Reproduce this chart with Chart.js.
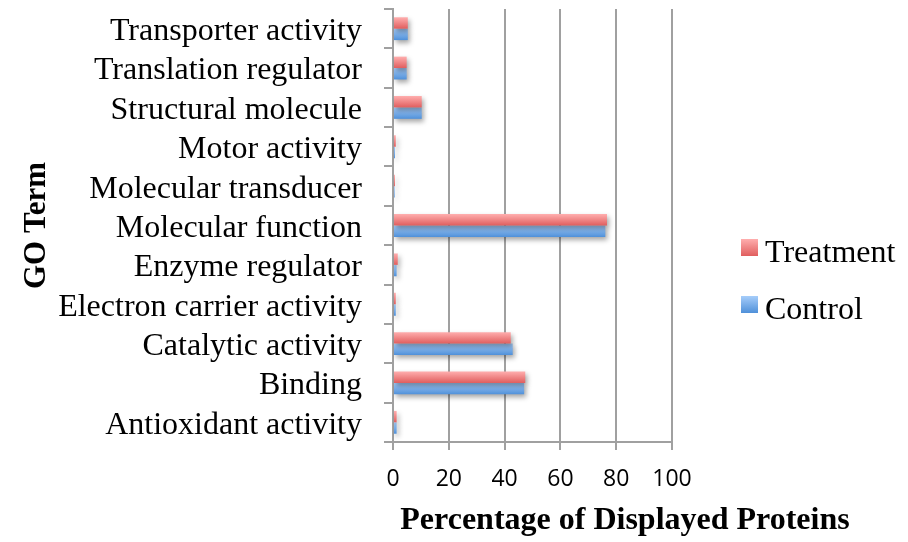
<!DOCTYPE html>
<html>
<head>
<meta charset="utf-8">
<script src="https://cdn.jsdelivr.net/npm/chart.js@4.4.1/dist/chart.umd.min.js"></script>
<style>
	html, body { margin: 0; padding: 0; background: #fff; }
	#wrap { width: 908px; height: 542px; }
</style>
</head>
<body>
<div id="wrap"><canvas id="myChart" width="908" height="542"></canvas></div>
<script>

var categories = ["Transporter activity", "Translation regulator", "Structural molecule", "Motor activity", "Molecular transducer", "Molecular function", "Enzyme regulator", "Electron carrier activity", "Catalytic activity", "Binding", "Antioxidant activity"];
var treatment = [5.3, 4.9, 10.3, 1.0, 0.7, 76.7, 1.7, 1.0, 42.2, 47.4, 1.3];
var control = [5.3, 4.9, 10.3, 0.7, 0.6, 76.1, 1.3, 1.0, 42.9, 47.0, 1.3];
var xTicks = [0, 20, 40, 60, 80, 100];

var serif = "'Liberation Serif', 'Times New Roman', serif";
var catPct = 0.58;

var redTop = "#FFAEAE", redBottom = "#E05E5E";
var blueTop = "#A6CDFA", blueBottom = "#4F90D9";

function barGradient(top, bottom) {
	return function(context) {
		var chart = context.chart;
		var area = chart.chartArea;
		var yScale = chart.scales.y;
		if (!area || !yScale) return bottom;
		var c = yScale.getPixelForValue(context.dataIndex);
		var pair = (area.bottom - area.top) / categories.length * catPct;
		var t = context.datasetIndex === 0 ? c - pair / 2 : c;
		if (!isFinite(t)) return bottom;
		var g = chart.ctx.createLinearGradient(0, t, 0, t + pair / 2);
		g.addColorStop(0, top);
		g.addColorStop(1, bottom);
		return g;
	};
}

var shadowPlugin = {
	id: "shadow",
	beforeDatasetsDraw: function(chart) {
		var ctx = chart.ctx;
		ctx.save();
		ctx.shadowColor = "rgba(0,0,0,0.35)";
		ctx.shadowBlur = 5;
		ctx.shadowOffsetX = 2;
		ctx.shadowOffsetY = 3;
	},
	afterDatasetsDraw: function(chart) {
		chart.ctx.restore();
	}
};

// legend and x title drawn by hand, the axis title would be squeezed to the plot width
var extrasPlugin = {
	id: "extras",
	afterDraw: function(chart) {
		var ctx = chart.ctx;
		var items = [
			{ label: chart.data.datasets[0].label, y: 239, top: redTop, bottom: redBottom },
			{ label: chart.data.datasets[1].label, y: 296, top: blueTop, bottom: blueBottom }
		];
		ctx.save();
		items.forEach(function(it) {
			var g = ctx.createLinearGradient(0, it.y, 0, it.y + 17);
			g.addColorStop(0, it.top);
			g.addColorStop(1, it.bottom);
			ctx.fillStyle = g;
			ctx.fillRect(741, it.y, 17, 17);
			ctx.fillStyle = "#000";
			ctx.font = "32px " + serif;
			ctx.textBaseline = "alphabetic";
			ctx.textAlign = "left";
			ctx.fillText(it.label, 765, it.y + 23);
		});
		ctx.font = "bold 32px " + serif;
		ctx.textAlign = "center";
		ctx.textBaseline = "middle";
		ctx.fillText("Percentage of Displayed Proteins", 625, 521);
		ctx.restore();
	}
};

var ctx = document.getElementById("myChart");

var data = {
	labels: categories,
	datasets: [
		{
			label: "Treatment",
			data: treatment,
			backgroundColor: barGradient(redTop, redBottom),
			borderWidth: 0
		},
		{
			label: "Control",
			data: control,
			backgroundColor: barGradient(blueTop, blueBottom),
			borderWidth: 0
		}
	]
};

var gridColor = "#A0A0A0";

var options = {
	indexAxis: "y",
	responsive: false,
	animation: false,
	datasets: {
		bar: {
			categoryPercentage: catPct,
			barPercentage: 1
		}
	},
	layout: {
		padding: { top: 9, right: 236, left: 0, bottom: 0 }
	},
	plugins: {
		legend: { display: false },
		tooltip: { enabled: false }
	},
	scales: {
		x: {
			min: 0,
			max: 100,
			afterBuildTicks: function(scale) {
				scale.ticks = xTicks.map(function(v) { return { value: v }; });
			},
			afterFit: function(scale) { scale.height = 100; },
			grid: {
				color: gridColor,
				lineWidth: 2,
				tickLength: 8
			},
			border: { color: gridColor, width: 2 },
			ticks: {
				color: "#000",
				padding: 16,
				font: { family: "'Open Sans', sans-serif", size: 23 }
			}
		},
		y: {
			afterFit: function(scale) {
				scale.width = 393;
				scale.paddingTop = 0;
				scale.paddingBottom = 0;
			},
			grid: {
				drawOnChartArea: false,
				color: gridColor,
				lineWidth: 2,
				tickLength: 9,
				offset: true
			},
			border: { color: gridColor, width: 2 },
			ticks: {
				color: "#000",
				padding: 22,
				labelOffset: 3,
				autoSkip: false,
				font: { family: serif, size: 32 }
			},
			title: {
				display: true,
				text: "GO Term",
				color: "#000",
				font: { family: serif, size: 31, weight: "bold" },
				padding: { top: 18, bottom: 0 }
			}
		}
	}
};

var myChart = new Chart(ctx, {
	type: "bar",
	data: data,
	options: options,
	plugins: [shadowPlugin, extrasPlugin]
});

</script>
</body>
</html>
